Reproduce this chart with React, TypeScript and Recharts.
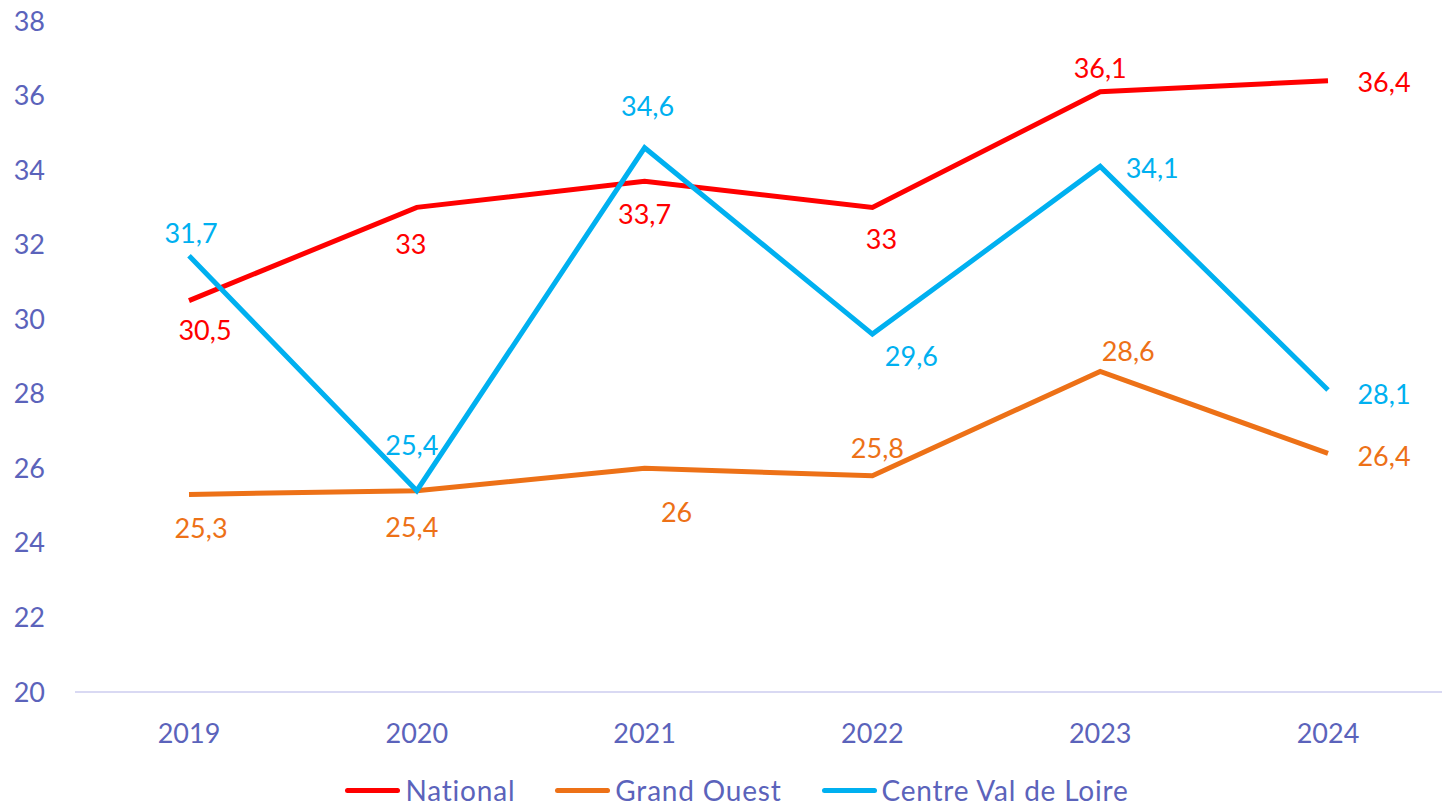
import React from 'react';
import { LineChart, Line, XAxis, YAxis, Legend } from 'recharts';

const years = ['2019', '2020', '2021', '2022', '2023', '2024'];
const national = [30.5, 33, 33.7, 33, 36.1, 36.4];
const grandOuest = [25.3, 25.4, 26, 25.8, 28.6, 26.4];
const centreVdl = [31.7, 25.4, 34.6, 29.6, 34.1, 28.1];
const yTicks = [20, 22, 24, 26, 28, 30, 32, 34, 36, 38];

// label offsets from the point (dx, dy), like the hand-placed labels of the original
const nationalOffsets = [[16, 29], [-6, 36], [0, 32], [9, 31], [0, -24], [56, 1]];
const grandOuestOffsets = [[12, 33], [-5, 36], [32, 43], [5, -28], [28, -21], [56, 2]];
const centreOffsets = [[2, -23], [-5, -46], [3, -42], [39, 21], [52, 1], [56, 3]];

const data = years.map((year, i) => ({
  year,
  national: national[i],
  grandOuest: grandOuest[i],
  centre: centreVdl[i],
}));

const FONT = 'Lato, "Open Sans", sans-serif';
const AXIS_COLOR = '#5b63bb';

const series = [
  { key: 'national', name: 'National', color: '#ff0000', offsets: nationalOffsets },
  { key: 'grandOuest', name: 'Grand Ouest', color: '#ed7117', offsets: grandOuestOffsets },
  { key: 'centre', name: 'Centre Val de Loire', color: '#00b0f0', offsets: centreOffsets },
];

const makeLabel = (color: string, offsets: number[][]) => (props: any) => {
  const { x, y, value, index } = props;
  const [dx, dy] = offsets[index] || [0, 0];
  return (
    <text
      x={x + dx}
      y={y + dy}
      fill={color}
      fontSize={27}
      fontFamily={FONT}
      textAnchor="middle"
      dominantBaseline="central"
    >
      {String(value).replace('.', ',')}
    </text>
  );
};

const renderLegend = () => (
  <div style={{ display: 'flex', justifyContent: 'center', alignItems: 'center', paddingTop: 22, paddingLeft: 32, fontFamily: FONT, fontSize: 28, lineHeight: '32px', letterSpacing: '0.8px', color: AXIS_COLOR }}>
    {series.map((s) => (
      <div key={s.key} style={{ display: 'flex', alignItems: 'center', margin: '0 20px' }}>
        <div style={{ width: 55, height: 5, borderRadius: 3, background: s.color, marginRight: 5 }} />
        <span>{s.name}</span>
      </div>
    ))}
  </div>
);

export default function App() {
  return (
    <div style={{ position: 'absolute', left: 0, top: 0, width: 1442, height: 809, background: '#fff' }}>
      <LineChart width={1442} height={809} data={data} margin={{ top: 21, right: 0, left: 0, bottom: 0 }}>
        <XAxis
          dataKey="year"
          axisLine={{ stroke: '#d9d9f3', strokeWidth: 2 }}
          tickLine={false}
          tick={{ fill: AXIS_COLOR, fontSize: 27, fontFamily: FONT }}
          tickMargin={26}
          height={60}
          padding={{ left: 114, right: 114 }}
        />
        <YAxis
          domain={[20, 38]}
          ticks={yTicks}
          axisLine={false}
          tickLine={false}
          tickSize={0}
          tickMargin={30}
          width={75}
          tick={{ fill: AXIS_COLOR, fontSize: 27, fontFamily: FONT }}
        />
        <Legend verticalAlign="bottom" height={57} content={renderLegend} />
        {series.map((s) => (
          <Line
            key={s.key}
            type="linear"
            dataKey={s.key}
            name={s.name}
            stroke={s.color}
            strokeWidth={5}
            dot={false}
            activeDot={false}
            isAnimationActive={false}
            label={makeLabel(s.color, s.offsets)}
          />
        ))}
      </LineChart>
    </div>
  );
}
